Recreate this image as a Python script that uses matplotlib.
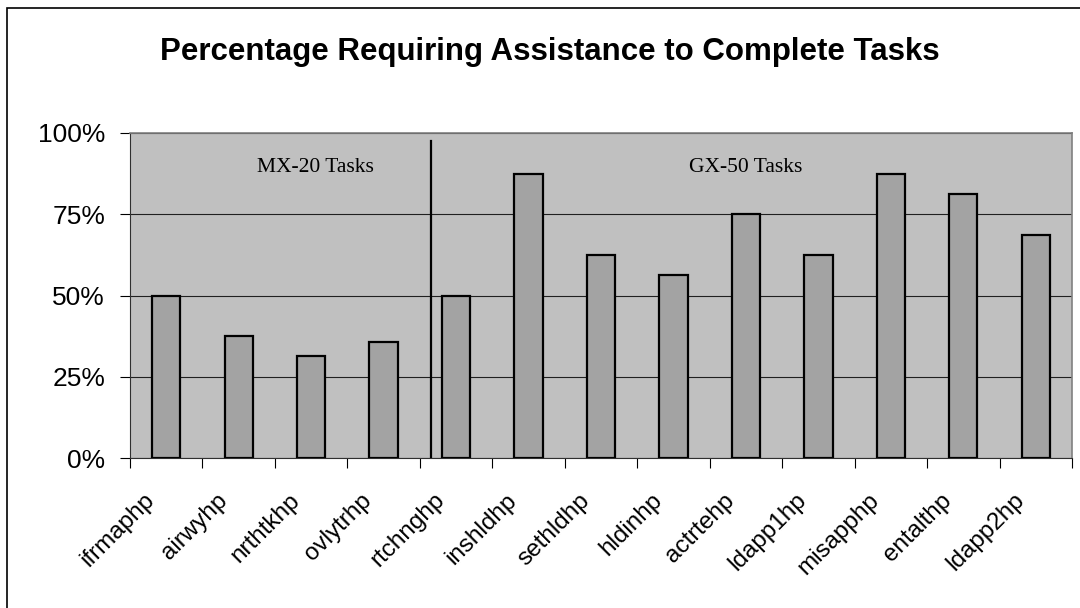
import numpy as np
import matplotlib
matplotlib.use("Agg")
import matplotlib.pyplot as plt
from matplotlib.patches import Rectangle
from matplotlib.ticker import FixedLocator, PercentFormatter
from matplotlib.transforms import ScaledTranslation

# donnees
taches = ["ifrmaphp", "airwyhp", "nrthtkhp", "ovlytrhp", "rtchnghp", "inshldhp",
          "sethldhp", "hldinhp", "actrtehp", "ldapp1hp", "misapphp", "entalthp", "ldapp2hp"]
pourcentages = [50.0, 37.5, 31.25, 35.7, 50.0, 87.5, 62.5, 56.25, 75.0, 62.5, 87.5, 81.25, 68.75]
groupes = ["MX-20 Tasks", "GX-50 Tasks"]
nb_mx20 = 4

plt.rcParams["font.family"] = ["Liberation Sans", "DejaVu Sans"]

fig = plt.figure(figsize=(10.8, 6.08), dpi=100)
# zone de trace : x 130..1072 px, y 133..458 px
ax = fig.add_axes([130 / 1080, 1 - 458 / 608, 942 / 1080, 325 / 608])
ax.set_facecolor("#c0c0c0")

x = np.arange(len(taches))
ax.bar(x, pourcentages, width=0.39, color="#a3a3a3", edgecolor="black", linewidth=1.6, zorder=3)

ax.set_xlim(-0.5, len(taches) - 0.5)
ax.set_ylim(0, 100)
ax.set_yticks([0, 25, 50, 75, 100])
ax.yaxis.set_major_formatter(PercentFormatter(decimals=0))
ax.yaxis.grid(True, color="#202020", linewidth=0.8, zorder=1)
ax.tick_params(axis="y", labelsize=19, length=7, direction="out", pad=11)

# ticks entre les categories facon excel, labels au centre
ax.xaxis.set_major_locator(FixedLocator(np.arange(len(taches) + 1) - 0.5))
ax.xaxis.set_major_formatter(plt.NullFormatter())
ax.xaxis.set_minor_locator(FixedLocator(x))
ax.set_xticklabels(taches, minor=True, rotation=45, ha="right", va="center",
                   rotation_mode="anchor", fontsize=17.5)
ax.tick_params(axis="x", which="major", length=7, direction="out")
ax.tick_params(axis="x", which="minor", length=0, pad=28)
# decalage vers la gauche comme dans excel
decalage = ScaledTranslation(-15 / 100, 0, fig.dpi_scale_trans)
for lab in ax.get_xticklabels(minor=True):
    lab.set_transform(lab.get_transform() + decalage)

for cote in ["top", "right"]:
    ax.spines[cote].set_color("#808080")
    ax.spines[cote].set_linewidth(1.2)
ax.spines["left"].set_color("#303030")
ax.spines["bottom"].set_color("#303030")

# separation entre les deux groupes
sep = nb_mx20 - 0.5 + 0.15
ax.plot([sep, sep], [0, 97.5], color="black", linewidth=1.6, zorder=4)
ax.text(2.06, 88, groupes[0], ha="center", va="baseline", fontsize=15.5,
        family="Liberation Serif", zorder=5)
ax.text(8.0, 88, groupes[1], ha="center", va="baseline", fontsize=15.5,
        family="Liberation Serif", zorder=5)

fig.text(550 / 1080, 1 - 60 / 608, "Percentage Requiring Assistance to Complete Tasks",
         ha="center", va="baseline", fontsize=22.5, fontweight="bold")

# cadre de la figure (seuls gauche et haut visibles)
fig.patches.append(Rectangle((7 / 1080, -0.05), 1.1, 1 - 8 / 608 + 0.05,
                             transform=fig.transFigure, fill=False,
                             edgecolor="black", linewidth=1.2))

fig.savefig("out.png", dpi=100)
